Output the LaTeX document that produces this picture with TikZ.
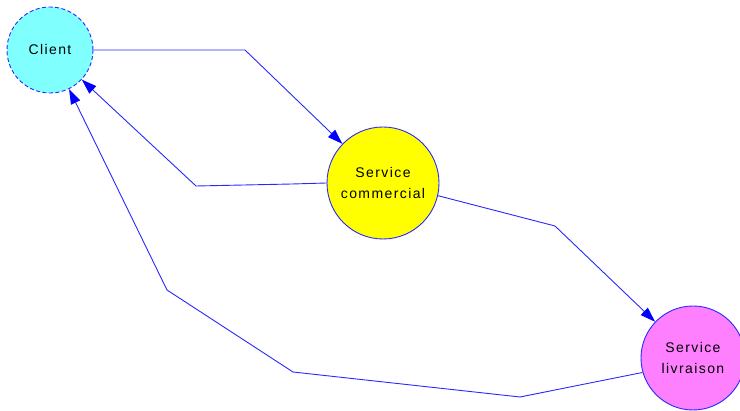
\documentclass[tikz,border=0pt]{standalone}
\usepackage{fontspec}
\setmainfont{Liberation Sans}[LetterSpace=10]
\usetikzlibrary{arrows.meta}
\definecolor{lineblue}{RGB}{40,40,255}
\definecolor{tipblue}{RGB}{0,0,255}
\definecolor{clientfill}{RGB}{128,255,255}
\definecolor{comfill}{RGB}{255,255,0}
\definecolor{livfill}{RGB}{255,128,255}
\tikzset{
  actor/.style={circle, draw=lineblue, line width=0.9pt, inner sep=0pt, align=center,
    font=\fontsize{14}{21}\selectfont},
  flow/.style={draw=lineblue, line width=0.9pt,
    -{Triangle[length=15pt,width=10pt,fill=tipblue,color=tipblue]}},
}
\begin{document}
\begin{tikzpicture}[x=1pt,y=-1pt]
\useasboundingbox (0,0) rectangle (740,411);
\node[actor, fill=clientfill, dashed, dash pattern=on 4pt off 2.5pt, minimum size=86pt] (cl) at (50,50) {Client};
\node[actor, fill=comfill, minimum size=112pt] (sc) at (383,183) {Service\\commercial};
\node[actor, fill=livfill, minimum size=104pt] (sl) at (693,358) {Service\\livraison};
\coordinate (b1) at (245,50);
\coordinate (b2a) at (292,184);
\coordinate (b2) at (196,186);
\coordinate (b3) at (555,226);
\coordinate (b4a) at (520,397);
\coordinate (b4b) at (293,372);
\coordinate (b4c) at (167,290);
\draw[flow] (cl.east) -- (b1) -- (sc);
\draw[flow] (sc.west) -- (b2a) -- (b2) -- (cl);
\draw[flow] (sc.-13) -- (b3) -- (sl);
\draw[flow] (sl.196) -- (b4a) -- (b4b) -- (b4c) -- (cl);
\end{tikzpicture}
\end{document}
